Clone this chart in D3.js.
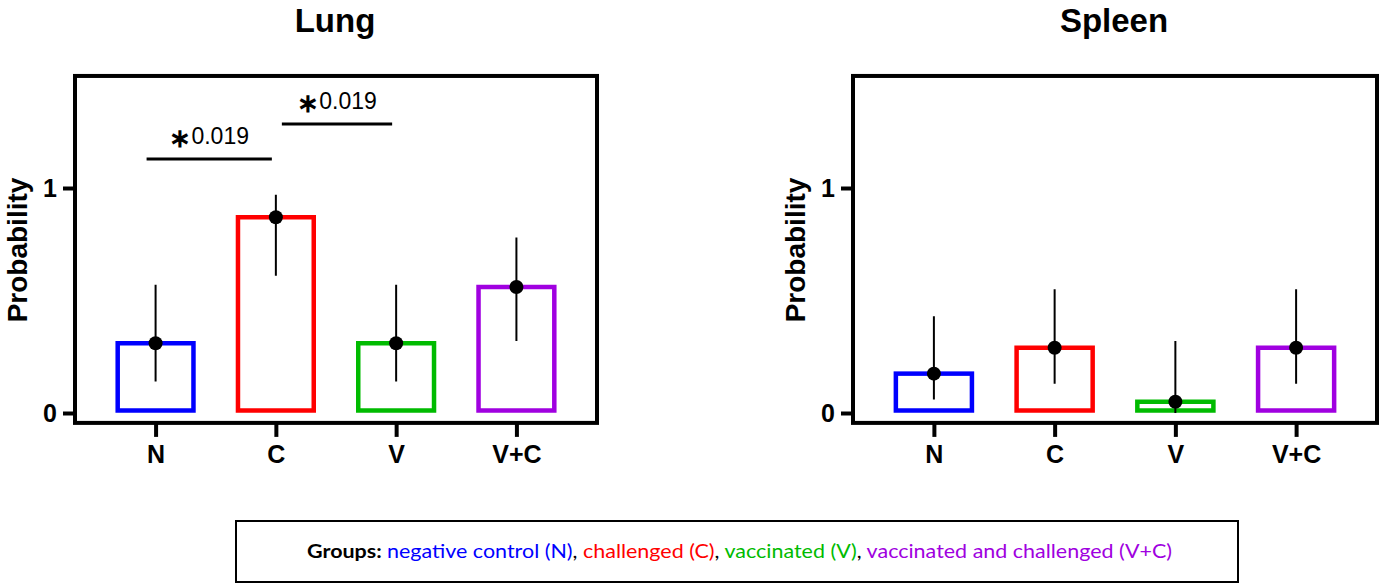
<!DOCTYPE html>
<meta charset="utf-8">
<html>
<script src="https://d3js.org/d3.v7.min.js"></script>
<style>
  body { margin: 0; background: #fff; }
  svg { display: block; }
</style>
<body>
<div id="chart"></div>
<script>
    // groups and colours
    const groups = ["N", "C", "V", "V+C"];
    const groupColors = ["#0000ff", "#ff0000", "#00bb00", "#a000e0"];

    // lung: mean probability and interval
    const lungMean = [0.31, 0.87, 0.31, 0.56];
    const lungLow  = [0.14, 0.61, 0.14, 0.32];
    const lungHigh = [0.57, 0.97, 0.57, 0.78];

    // spleen
    const spleenMean = [0.175, 0.29, 0.05, 0.29];
    const spleenLow  = [0.06, 0.13, 0.0, 0.13];
    const spleenHigh = [0.43, 0.55, 0.32, 0.55];

    // significance brackets (lung only)
    const brackets = [
      {from: "N", to: "C", level: 1.129, label: "0.019"},
      {from: "C", to: "V", level: 1.284, label: "0.019"}
    ];

    const yTicks = [0, 1];

    const legendParts = [
      {text: "Groups: ", color: "#000", bold: true},
      {text: "negative control (N)", color: "#0000ff"},
      {text: ", ", color: "#000"},
      {text: "challenged (C)", color: "#ff0000"},
      {text: ", ", color: "#000"},
      {text: "vaccinated (V)", color: "#00bb00"},
      {text: ", ", color: "#000"},
      {text: "vaccinated and challenged (V+C)", color: "#a000e0"}
    ];

    const W = 1384, H = 584;
    const font = "'Liberation Sans', Arial, sans-serif";
    const svg = d3.select("#chart").append("svg")
        .attr("width", W).attr("height", H);

    // shared y scale (0 at 413px, 1 at 188px)
    const y = d3.scaleLinear().domain([0, 1]).range([413, 188]);
    const yTop = 1.498, yBottom = -0.044;

    function panel(left, right, title, mean, low, high, sig) {
      const g = svg.append("g");
      const x = d3.scalePoint().domain(groups).range([left, right]).padding(0.67);
      const bw = x.step() * 0.63;

      // title
      g.append("text")
        .attr("x", (left + right) / 2 - 1).attr("y", 32)
        .attr("text-anchor", "middle")
        .style("font-family", font)
        .style("font-weight", "bold").style("font-size", "33px")
        .text(title);

      // bars
      g.selectAll(".bar").data(groups).join("rect")
        .attr("x", d => x(d) - bw / 2)
        .attr("width", bw)
        .attr("y", (d, i) => y(mean[i]))
        .attr("height", (d, i) => y(0) - y(mean[i]) - 2.5)
        .attr("fill", "none")
        .attr("stroke", (d, i) => groupColors[i])
        .attr("stroke-width", 4.5);

      // whiskers
      g.selectAll(".err").data(groups).join("line")
        .attr("x1", d => x(d)).attr("x2", d => x(d))
        .attr("y1", (d, i) => y(low[i]))
        .attr("y2", (d, i) => y(high[i]))
        .attr("stroke", "#000").attr("stroke-width", 2);

      g.selectAll(".dot").data(groups).join("circle")
        .attr("cx", d => x(d))
        .attr("cy", (d, i) => y(mean[i]))
        .attr("r", 7).attr("fill", "#000");

      // frame
      g.append("rect")
        .attr("x", left).attr("y", y(yTop))
        .attr("width", right - left)
        .attr("height", y(yBottom) - y(yTop))
        .attr("fill", "none").attr("stroke", "#000").attr("stroke-width", 4);

      // y axis ticks
      const ya = g.append("g")
        .attr("transform", `translate(${left},0)`)
        .call(d3.axisLeft(y).tickValues(yTicks).tickSize(12).tickPadding(6).tickFormat(d3.format("d")));
      ya.select(".domain").remove();
      ya.selectAll(".tick line").attr("stroke-width", 4);
      ya.selectAll(".tick text")
        .style("font-family", font)
        .style("font-weight", "bold").style("font-size", "25px");

      // x axis ticks
      const xa = g.append("g")
        .attr("transform", `translate(0,${y(yBottom)})`)
        .call(d3.axisBottom(x).tickSize(14).tickPadding(8));
      xa.select(".domain").remove();
      xa.selectAll(".tick line").attr("stroke-width", 4);
      xa.selectAll(".tick text")
        .style("font-family", font)
        .style("font-weight", "bold").style("font-size", "25px");

      // y label
      g.append("text")
        .attr("transform", `translate(${left - 48},250) rotate(-90)`)
        .attr("text-anchor", "middle")
        .style("font-family", font)
        .style("font-weight", "bold").style("font-size", "28px")
        .text("Probability");

      // significance
      sig.forEach(b => {
        const shift = b.from === "C" ? 6 : -9;
        const x1 = x(b.from) + shift, x2 = x(b.to) - 4;
        g.append("line")
          .attr("x1", x1).attr("x2", x2)
          .attr("y1", y(b.level)).attr("y2", y(b.level))
          .attr("stroke", "#000").attr("stroke-width", 3);
        const t = g.append("text")
          .attr("x", (x1 + x2) / 2).attr("y", y(b.level) - 15)
          .attr("text-anchor", "middle")
          .style("font-family", font)
          .style("font-size", "23px");
        t.append("tspan").text("\u2217").style("font-size", "26px")
          .style("font-weight", "bold").attr("dy", "3");
        t.append("tspan").text(b.label).attr("dy", "-3");
      });
    }

    panel(75, 597, "Lung", lungMean, lungLow, lungHigh, brackets);
    panel(853, 1377, "Spleen", spleenMean, spleenLow, spleenHigh, []);

    // legend box
    svg.append("rect")
      .attr("x", 236).attr("y", 521).attr("width", 1002).attr("height", 61)
      .attr("fill", "none").attr("stroke", "#000").attr("stroke-width", 2);

    const lt = svg.append("text")
      .attr("x", 307).attr("y", 558)
      .attr("textLength", 865).attr("lengthAdjust", "spacingAndGlyphs")
      .style("font-family", "Lato, 'Open Sans', sans-serif")
      .style("font-size", "19px");
    legendParts.forEach(p => {
      lt.append("tspan").text(p.text)
        .attr("fill", p.color)
        .style("font-weight", p.bold ? "bold" : "normal");
    });
</script>
</body>
</html>
